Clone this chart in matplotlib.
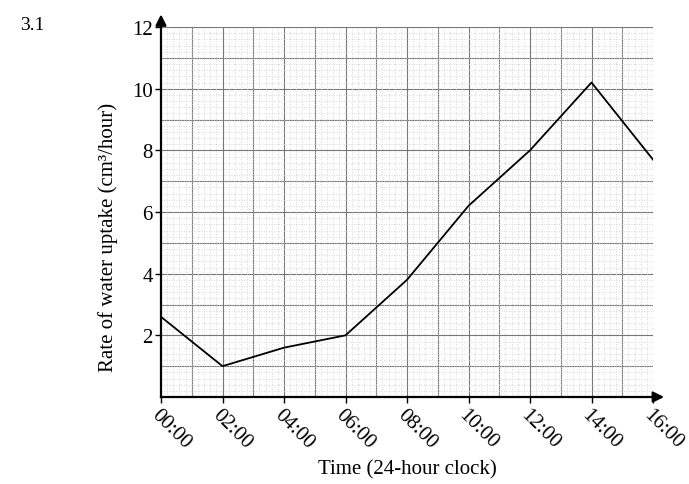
import numpy as np
import matplotlib.pyplot as plt
from matplotlib.ticker import MultipleLocator

hours = [0, 2, 4, 6, 8, 10, 12, 14, 16]
uptake = [2.6, 1.0, 1.6, 2.0, 3.8, 6.2, 8.0, 10.2, 7.7]
x_labels = ["00:00", "02:00", "04:00", "06:00", "08:00", "10:00", "12:00", "14:00", "16:00"]
y_ticks = [2, 4, 6, 8, 10, 12]

plt.rcParams["font.family"] = ["Liberation Serif", "DejaVu Serif"]

fig = plt.figure(figsize=(6.89, 4.85), dpi=100)
ax = fig.add_axes([161 / 689, 87 / 485, 492 / 689, 370 / 485])

ax.set_xlim(0, 16)
ax.set_ylim(0, 12)

# graph paper
ax.xaxis.set_minor_locator(MultipleLocator(0.2))
ax.yaxis.set_minor_locator(MultipleLocator(0.2))
ax.grid(True, which="minor", color="#cccccc", linestyle=(0, (1, 2)), linewidth=0.6)
for v in np.arange(1, 16.5, 1):
    ax.axvline(v, color="#777777", linewidth=0.8, zorder=1)
for v in np.arange(1, 12.5, 1):
    ax.axhline(v, color="#777777", linewidth=0.8, zorder=1)
ax.tick_params(which="minor", length=0)

ax.plot(hours, uptake, color="black", linewidth=1.3, zorder=3)

ax.set_xticks(hours)
ax.set_xticklabels(x_labels, rotation=-45, ha="left", va="top", rotation_mode="anchor")
ax.set_yticks(y_ticks)
ax.tick_params(which="major", labelsize=15, length=4, width=1, colors="black")
ax.tick_params(axis="x", pad=2)
ax.tick_params(axis="y", pad=2)

for s in ["top", "right"]:
    ax.spines[s].set_visible(False)
for s in ["left", "bottom"]:
    ax.spines[s].set_linewidth(1.6)
    ax.spines[s].set_zorder(4)

# axis arrows
ax.annotate("", xy=(16.45, 0), xytext=(15.9, 0), annotation_clip=False,
            arrowprops=dict(arrowstyle="-|>", color="black", lw=1.6, mutation_scale=16))
ax.annotate("", xy=(0, 12.5), xytext=(0, 11.9), annotation_clip=False,
            arrowprops=dict(arrowstyle="-|>", color="black", lw=1.6, mutation_scale=16))

fig.text(407 / 689, 1 - 470 / 485, "Time (24-hour clock)", fontsize=15, ha="center", va="center")
ax.set_ylabel("Rate of water uptake (cm³/hour)", fontsize=15)
ax.yaxis.set_label_coords(-0.087, 0.435)
fig.text(20 / 689, 1 - 25 / 485, "3.1", fontsize=14, va="center", ha="left")

fig.savefig("out.png", dpi=100)
